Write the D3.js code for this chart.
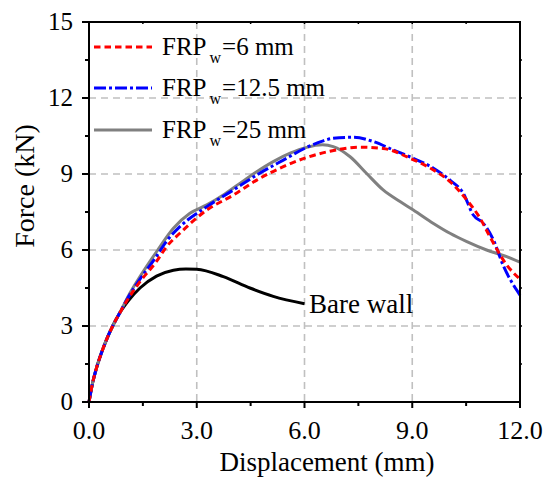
<!DOCTYPE html>
<html><head><meta charset="utf-8">
<script src="https://cdn.jsdelivr.net/npm/d3@7"></script>
<style>
html,body{margin:0;padding:0;background:#fff;}
text{font-family:"Liberation Serif","Times New Roman",serif;fill:#000;}
</style></head>
<body><svg id="c" width="554" height="485"></svg>
<script>
// ---- data ----
const xTickVals = [0, 3, 6, 9, 12];
const xTickLabels = ["0.0", "3.0", "6.0", "9.0", "12.0"];
const yTickVals = [0, 3, 6, 9, 12, 15];
const yTickLabels = ["0", "3", "6", "9", "12", "15"];
const legendLabels = ["6 mm", "12.5 mm", "25 mm"];

const dispBare  = [0,0.1,0.2,0.35,0.5,0.66,0.85,1.1,1.42,1.88,2.35,2.7,3.0,3.74,4.48,5.13,6.0];
const forceBare = [0,0.75,1.3,1.95,2.5,3.0,3.5,4.0,4.5,4.97,5.2,5.25,5.24,4.95,4.5,4.17,3.88];

const disp6  = [0,0.1,0.2,0.35,0.5,0.66,0.85,1.1,1.42,1.88,2.16,2.53,3.28,4.02,4.67,5.41,6.06,6.71,7.54,8.19,8.94,9.59,10.05,10.52,10.89,11.16,11.63,12.0];
const force6 = [0,0.75,1.3,1.95,2.5,3.0,3.5,4.1,4.75,5.55,6.13,6.66,7.58,8.17,8.76,9.29,9.65,9.9,10.06,10.01,9.62,9.16,8.7,7.97,7.25,6.53,5.41,4.85];

const disp12  = [0,0.1,0.2,0.35,0.5,0.66,0.85,1.1,1.42,1.88,2.16,2.53,3.28,4.02,4.67,5.41,6.06,6.5,6.8,7.36,7.92,8.47,9.03,9.59,10.05,10.42,10.7,10.98,11.26,11.53,12.0];
const force12 = [0,0.75,1.3,1.95,2.5,3.0,3.5,4.15,4.85,5.75,6.35,6.92,7.71,8.37,8.96,9.55,10.05,10.3,10.41,10.45,10.28,9.95,9.62,9.23,8.76,8.24,7.38,7.05,6.4,5.4,4.22];

const disp25  = [0,0.1,0.2,0.35,0.5,0.66,0.85,1.1,1.42,1.88,2.35,2.81,3.28,3.74,4.2,4.67,5.13,5.6,6.06,6.5,6.8,7.27,7.73,8.19,8.66,9.03,9.59,10.05,10.52,11.07,11.63,12.0];
const force25 = [0,0.75,1.3,1.95,2.5,3.0,3.5,4.2,4.95,5.93,6.86,7.45,7.78,8.17,8.63,9.09,9.49,9.82,10.05,10.15,10.08,9.68,9.02,8.37,7.91,7.58,7.05,6.66,6.33,6.0,5.74,5.52];

// ---- layout ----
const L = 89, R = 520, T = 22, B = 402;
const svg = d3.select("#c");
const x = d3.scaleLinear().domain([0, 12]).range([L, R]);
const y = d3.scaleLinear().domain([0, 15]).range([B, T]);

// grid
const g = svg.append("g");
g.selectAll(".gx").data([3, 6, 9]).join("line")
  .attr("x1", d => x(d)).attr("x2", d => x(d)).attr("y1", T).attr("y2", B)
  .attr("stroke", "#c0c0c0").attr("stroke-width", 1.6).attr("stroke-dasharray", "7,5");
g.selectAll(".gy").data([3, 6, 9, 12]).join("line")
  .attr("y1", d => y(d)).attr("y2", d => y(d)).attr("x1", L).attr("x2", R)
  .attr("stroke", "#c0c0c0").attr("stroke-width", 1.6).attr("stroke-dasharray", "7,5");

// series
const mk = (xs, ys) => xs.map((v, i) => [v, ys[i]]);
const line = d3.line().x(d => x(d[0])).y(d => y(d[1])).curve(d3.curveMonotoneX);
const series = [
  {data: mk(dispBare, forceBare), color: "#000000", dash: null},
  {data: mk(disp25, force25), color: "#808080", dash: null},
  {data: mk(disp12, force12), color: "#0000ff", dash: "12,3,3,3"},
  {data: mk(disp6, force6), color: "#ff0000", dash: "6.5,4"}
];
series.forEach(s => {
  svg.append("path").attr("d", line(s.data)).attr("fill", "none")
    .attr("stroke", s.color).attr("stroke-width", 3)
    .attr("stroke-dasharray", s.dash);
});

// axes (ticks)
svg.append("g").selectAll("line").data(d3.range(0, 12.01, 1.5)).join("line")
  .attr("x1", d => x(d)).attr("x2", d => x(d)).attr("y1", B)
  .attr("y2", (d, i) => B + (i % 2 === 0 ? 6 : 4)).attr("stroke", "#000").attr("stroke-width", 2);
svg.append("g").selectAll("line").data(d3.range(0, 15.01, 1.5)).join("line")
  .attr("y1", d => y(d)).attr("y2", d => y(d)).attr("x1", L)
  .attr("x2", (d, i) => L - (i % 2 === 0 ? 7 : 4)).attr("stroke", "#000").attr("stroke-width", 2);
// top & right tiny ticks
svg.append("g").selectAll("line").data(d3.range(1.5, 12, 1.5)).join("line")
  .attr("x1", d => x(d)).attr("x2", d => x(d)).attr("y1", T).attr("y2", T + 2)
  .attr("stroke", "#000").attr("stroke-width", 1.5);
svg.append("g").selectAll("line").data(d3.range(1.5, 15, 1.5)).join("line")
  .attr("y1", d => y(d)).attr("y2", d => y(d)).attr("x1", R).attr("x2", R + 2)
  .attr("stroke", "#000").attr("stroke-width", 1.5);

// frame
svg.append("rect").attr("x", L).attr("y", T).attr("width", R - L).attr("height", B - T)
  .attr("fill", "none").attr("stroke", "#000").attr("stroke-width", 2);

// tick labels
svg.append("g").selectAll("text").data(xTickVals).join("text")
  .attr("x", d => x(d)).attr("y", 439).attr("text-anchor", "middle")
  .attr("font-size", 26).text((d, i) => xTickLabels[i]);
svg.append("g").selectAll("text").data(yTickVals).join("text")
  .attr("x", 73).attr("y", d => y(d) + 8).attr("text-anchor", "end")
  .attr("font-size", 25).text((d, i) => yTickLabels[i]);

// axis titles
svg.append("text").attr("x", 327).attr("y", 471).attr("text-anchor", "middle")
  .attr("font-size", 27).text("Displacement (mm)");
svg.append("text").attr("transform", "translate(34,186) rotate(-90)")
  .attr("text-anchor", "middle").attr("font-size", 28).text("Force (kN)");

// bare wall label
svg.append("text").attr("x", 309).attr("y", 313).attr("font-size", 27).text("Bare wall");

// legend
const legY = [47, 88, 130];
const legStyle = [series[3], series[2], series[1]];
legendLabels.forEach((lab, i) => {
  const s = legStyle[i];
  svg.append("line").attr("x1", 94).attr("x2", 152).attr("y1", legY[i]).attr("y2", legY[i])
    .attr("stroke", s.color).attr("stroke-width", 3).attr("stroke-dasharray", s.dash);
  const t = svg.append("text").attr("x", 162).attr("y", legY[i] + 8).attr("font-size", 25);
  t.append("tspan").text("FRP");
  t.append("tspan").attr("dx", 3).attr("dy", 8).attr("font-size", 16).text("w");
  t.append("tspan").attr("dx", 1).attr("dy", -8).text("=" + lab);
});
</script></body></html>
